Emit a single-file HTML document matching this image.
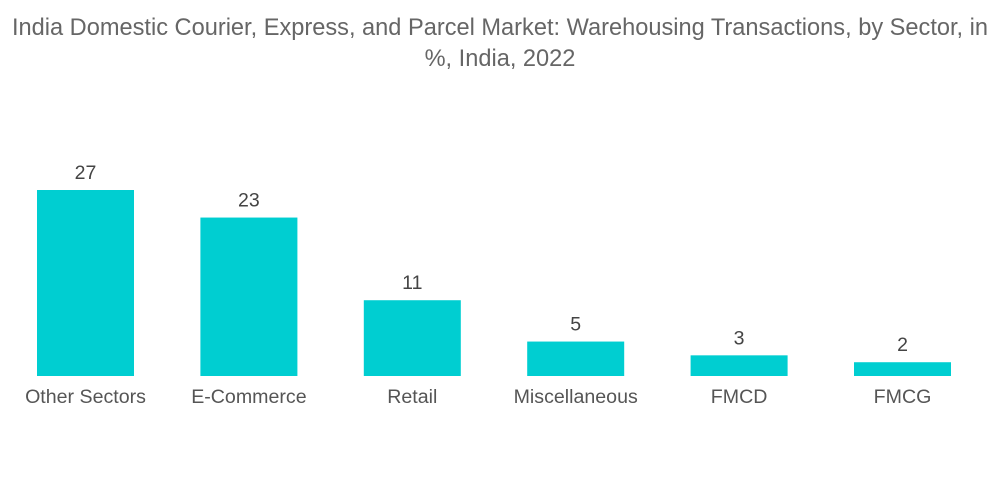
<!DOCTYPE html>
<html><head><meta charset="utf-8"><style>
body{margin:0;width:1000px;height:504px;background:#fff;overflow:hidden;font-family:"Liberation Sans",sans-serif}
#title{position:absolute;top:13px;left:0;width:1000px;text-align:center;color:#666;font-size:23.6px;line-height:31px}
</style></head><body>
<div id="title">India Domestic Courier, Express, and Parcel Market: Warehousing Transactions, by Sector, in<br>%, India, 2022</div>
<svg id="chart" width="1000" height="504" style="position:absolute;top:0;left:0"></svg>
<script>
const categories=["Other Sectors","E-Commerce","Retail","Miscellaneous","FMCD","FMCG"];
const values=[27,23,11,5,3,2];
const svg=document.getElementById('chart');
const NS='http://www.w3.org/2000/svg';
const baseY=376, pxPerUnit=186/27, x0=37, step=163.4, bw=97;
function yScale(v){return baseY-v*pxPerUnit;}
function xScale(i){return x0+i*step;}
categories.forEach((c,i)=>{
  const r=document.createElementNS(NS,'rect');
  
  
  r.setAttribute('x',xScale(i));r.setAttribute('y',yScale(values[i]));
  r.setAttribute('width',bw);r.setAttribute('height',baseY-yScale(values[i]));
  r.setAttribute('fill','#00ced1');svg.appendChild(r);
  const t=document.createElementNS(NS,'text');
  
  
  t.setAttribute('x',xScale(i)+bw/2);t.setAttribute('y',yScale(values[i])-11);
  t.setAttribute('text-anchor','middle');t.setAttribute('font-size','19.5');t.setAttribute('fill','#444');
  t.setAttribute('font-family','Liberation Sans, sans-serif');
  t.textContent=values[i];svg.appendChild(t);
  const l=document.createElementNS(NS,'text');
  
  
  l.setAttribute('x',xScale(i)+bw/2);l.setAttribute('y',403);
  l.setAttribute('text-anchor','middle');l.setAttribute('font-size','19.6');l.setAttribute('fill','#555');
  l.setAttribute('font-family','Liberation Sans, sans-serif');
  l.textContent=c;svg.appendChild(l);
});
</script>
</body></html>
